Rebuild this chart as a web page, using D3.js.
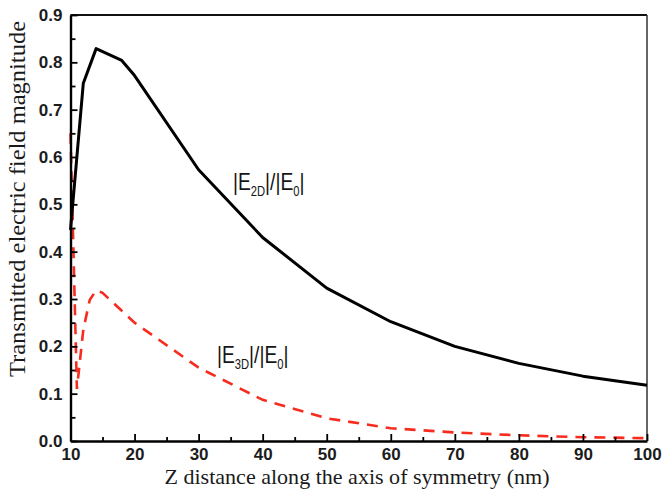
<!DOCTYPE html>
<html>
<head>
<meta charset="utf-8">
<script src="https://cdn.jsdelivr.net/npm/d3@7"></script>
<style>
    body { margin: 0; background: #fff; }
    .tick text { font-family: "Liberation Sans", Arial, sans-serif; font-weight: bold; fill: #1c1c1c; }
</style>
</head>
<body>
<div id="plot"></div>
<script>
// Z distance (nm) and field magnitude
var z_2d = [10, 12, 14, 18, 20, 30, 40, 50, 60, 70, 80, 90, 100];
var e_2d = [0.446, 0.756, 0.829, 0.804, 0.772, 0.573, 0.43, 0.323, 0.252, 0.2, 0.164, 0.137, 0.118];

var z_3d = [10, 11, 12, 13, 14, 15, 20, 30, 40, 50, 60, 70, 80, 90, 100];
var e_3d = [0.65, 0.11, 0.235, 0.298, 0.318, 0.313, 0.25, 0.155, 0.087, 0.048, 0.027, 0.018, 0.012, 0.008, 0.006];

var x_major = [10, 20, 30, 40, 50, 60, 70, 80, 90, 100];
var x_minor = [15, 25, 35, 45, 55, 65, 75, 85, 95];
var y_major = [0.0, 0.1, 0.2, 0.3, 0.4, 0.5, 0.6, 0.7, 0.8, 0.9];
var y_minor = [0.05, 0.15, 0.25, 0.35, 0.45, 0.55, 0.65, 0.75, 0.85];

var width = 663, height = 493;
var margin = {left: 70.5, right: 16, top: 15, bottom: 52};

var svg = d3.select("#plot")
    .append("svg")
    .attr("width", width)
    .attr("height", height);

var x = d3.scaleLinear()
    .domain([10, 100])
    .range([margin.left, width - margin.right]);

var y = d3.scaleLinear()
    .domain([0, 0.9])
    .range([height - margin.bottom, margin.top]);

var x0 = x.range()[0], x1 = x.range()[1];
var y0 = y.range()[0], y1 = y.range()[1];

// frame: top and right are plain lines
svg.append("line")
    .attr("x1", x0).attr("x2", x1).attr("y1", y1).attr("y2", y1)
    .attr("stroke", "#111").attr("stroke-width", 2);
svg.append("line")
    .attr("x1", x1).attr("x2", x1).attr("y1", y1).attr("y2", y0)
    .attr("stroke", "#333").attr("stroke-width", 1.5);

// curves
var line = d3.line()
    .x(function(d) { return x(d[0]); })
    .y(function(d) { return y(d[1]); });

svg.append("path")
    .attr("d", line(d3.zip(z_3d, e_3d)))
    .attr("fill", "none")
    .attr("stroke", "#f72c1e")
    .attr("stroke-width", 2.6)
    .attr("stroke-dasharray", "11,8");

svg.append("path")
    .attr("d", line(d3.zip(z_2d, e_2d)))
    .attr("fill", "none")
    .attr("stroke", "#000")
    .attr("stroke-width", 3)
    .attr("stroke-linejoin", "round");

// axes, ticks point inward
svg.append("g")
    .attr("transform", "translate(0," + y0 + ")")
    .call(d3.axisBottom(x).tickValues(x_minor).tickSizeInner(-4).tickSizeOuter(0).tickFormat(""))
    .call(function(g) { g.select(".domain").remove(); })
    .selectAll("line").attr("stroke-width", 1.8);

var xAxis = svg.append("g")
    .attr("transform", "translate(0," + y0 + ")")
    .call(d3.axisBottom(x).tickValues(x_major).tickSizeInner(-7).tickSizeOuter(0).tickPadding(7).tickFormat(d3.format("d")));
xAxis.select(".domain").attr("stroke-width", 2.4);
xAxis.selectAll("line").attr("stroke-width", 1.8);
xAxis.selectAll("text").attr("font-size", 17);

svg.append("g")
    .attr("transform", "translate(" + x0 + ",0)")
    .call(d3.axisLeft(y).tickValues(y_minor).tickSizeInner(-5).tickSizeOuter(0).tickFormat(""))
    .call(function(g) { g.select(".domain").remove(); })
    .selectAll("line").attr("stroke-width", 1.8);

var yAxis = svg.append("g")
    .attr("transform", "translate(" + x0 + ",0)")
    .call(d3.axisLeft(y).tickValues(y_major).tickSizeInner(-7).tickSizeOuter(0).tickPadding(8).tickFormat(d3.format(".1f")));
yAxis.select(".domain").attr("stroke-width", 2.4);
yAxis.selectAll("line").attr("stroke-width", 1.8);
yAxis.selectAll("text").attr("font-size", 17);

// axis titles
svg.append("text")
    .attr("text-anchor", "middle")
    .attr("transform", "translate(25,199)rotate(-90)")
    .attr("font-family", "'Liberation Serif', 'Times New Roman', serif")
    .attr("font-size", 23)
    .attr("textLength", 356)
    .attr("lengthAdjust", "spacingAndGlyphs")
    .attr("fill", "#1a1a1a")
    .text("Transmitted electric field magnitude");

svg.append("text")
    .attr("x", 357)
    .attr("y", 484)
    .attr("text-anchor", "middle")
    .attr("font-family", "'Liberation Serif', 'Times New Roman', serif")
    .attr("font-size", 22)
    .attr("textLength", 385)
    .attr("lengthAdjust", "spacingAndGlyphs")
    .attr("fill", "#1a1a1a")
    .text("Z distance along the axis of symmetry (nm)");

// curve labels |E_xD|/|E_0|, squeezed horizontally like the original lettering
function curve_label(px, py, sub) {
    var t = svg.append("text")
        .attr("transform", "translate(" + px + "," + py + ")scale(0.8,1)")
        .attr("font-family", "'Liberation Sans', Arial, sans-serif")
        .attr("font-size", 24)
        .attr("fill", "#151515");
    t.append("tspan").text("|E");
    t.append("tspan").attr("font-size", 14).attr("dy", 6).text(sub);
    t.append("tspan").attr("dy", -6).text("|/|E");
    t.append("tspan").attr("font-size", 14).attr("dy", 6).text("0");
    t.append("tspan").attr("dy", -6).text("|");
}

curve_label(233, 190, "2D");
curve_label(217, 363, "3D");
</script>
</body>
</html>
